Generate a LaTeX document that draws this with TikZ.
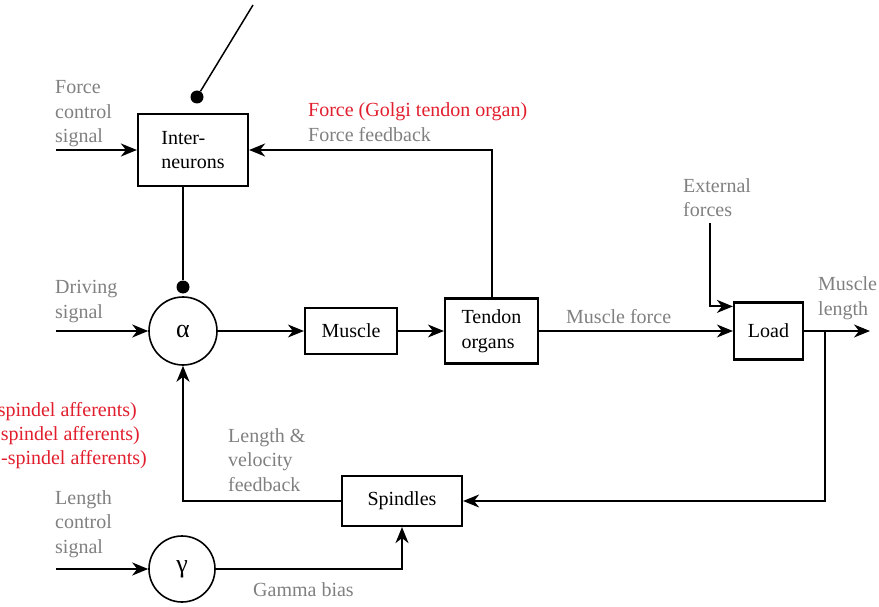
\documentclass[tikz,border=0pt]{standalone}
\usepackage{fontspec}
\setmainfont{Liberation Serif}
\usetikzlibrary{arrows.meta}
\definecolor{labelgray}{RGB}{128,128,128}
\definecolor{labelred}{RGB}{225,30,45}

\begin{document}
\begin{tikzpicture}[x=1pt, y=-1pt,
  font=\fontsize{20}{24.5}\selectfont,
  block/.style={draw, line width=2.2pt, inner sep=0pt, align=left},
  cell/.style={draw, circle, line width=1.6pt, inner sep=0pt,
    font=\fontsize{26}{26}\selectfont},
  dot/.style={circle, fill, inner sep=0pt, minimum size=13pt},
  signal/.style={line width=2pt, -{Stealth[length=16pt,width=13pt,inset=5pt]}},
  flow/.style={line width=1.2pt, -{Stealth[length=16pt,width=13pt,inset=5pt]}},
  note/.style={text=labelgray, anchor=base west, align=left, inner sep=0pt},
  afferent/.style={text=labelred, anchor=base east, inner sep=0pt}]

  \useasboundingbox (0,0) rectangle (879,607);

  % Blocks of the loop: neurons, muscle, sensors and load

  \node [block, minimum width=110pt, minimum height=72pt] (int) at (193,150)
    {Inter-\\neurons};
  \node [cell, minimum size=68pt] (alp) at (183,331) {α};
  \node [block, minimum width=92pt, minimum height=46pt] (mus) at (351,331)
    {Muscle};
  \node [block, minimum width=93pt, minimum height=65pt] (ten) at (491.5,331)
    {Tendon\\organs};
  \node [block, minimum width=69pt, minimum height=57pt] (lod) at (768.5,331)
    {Load};
  \node [block, minimum width=120pt, minimum height=50pt] (spi) at (402,501)
    {Spindles};
  \node [cell, minimum size=66pt] (gam) at (182,569) {γ};

  % Inhibitory contacts and the free ends of the inputs

  \node [dot] (sdot) at (197,97) {};
  \node [dot] (adot) at (183,287) {};
  \coordinate (sw) at (253,5);
  \coordinate (fcs) at (56,150);
  \coordinate (dri) at (56,331);
  \coordinate (lcs) at (56,569);
  \coordinate (ext) at (710,223);
  \coordinate (lodin) at ([yshift=-5pt]lod.north west);
  \coordinate (mln) at (870,331);
  \coordinate (br) at (825,331);

  % Labels of the signals (base = baseline of the last line)

  \node [note] (fcsl) at (55,143) {Force\\control\\signal};
  \node [note, text=labelred] (gol) at (308,117) {Force (Golgi tendon organ)};
  \node [note] (ffb) at (308,142) {Force feedback};
  \node [note] (dril) at (55,318) {Driving\\signal};
  \node [note] (mfo) at (566,323) {Muscle force};
  \node [note] (extl) at (683,217) {External\\forces};
  \node [note] (mlnl) at (818,315) {Muscle\\length};
  \node [note] (lvf) at (228,491) {Length \&\\velocity\\feedback};
  \node [note] (lcsl) at (55,553) {Length\\control\\signal};
  \node [note] (gbi) at (253,596) {Gamma bias};
  \node [afferent] (aff1) at (137,416) {-spindel afferents)};
  \node [afferent] (aff2) at (140,440) {spindel afferents)};
  \node [afferent] (aff3) at (147,464) {-spindel afferents)};

  % Connections

  \draw [line width=1.5pt] (sw) -- (sdot);
  \draw [line width=2pt] (adot |- int.south) -- (adot);
  \draw [signal] (fcs) -- (int.west);
  \draw [signal] (ten.north) |- (int.east);
  \draw [signal] (dri) -- (alp.west);
  \draw [flow] (alp.east) -- (mus.west);
  \draw [flow] (mus.east) -- (ten.west);
  \draw [flow] (ten.east) -- (lod.west);
  \draw [signal] (ext) |- (lodin);
  \draw [flow] (lod.east) -- (mln);
  \draw [flow, line width=1.6pt] (br) |- (spi.east);
  \draw [signal] (spi.west) -| (alp.south);
  \draw [signal] (lcs) -- (gam.west);
  \draw [signal] (gam.east) -| (spi.south);
\end{tikzpicture}
\end{document}
